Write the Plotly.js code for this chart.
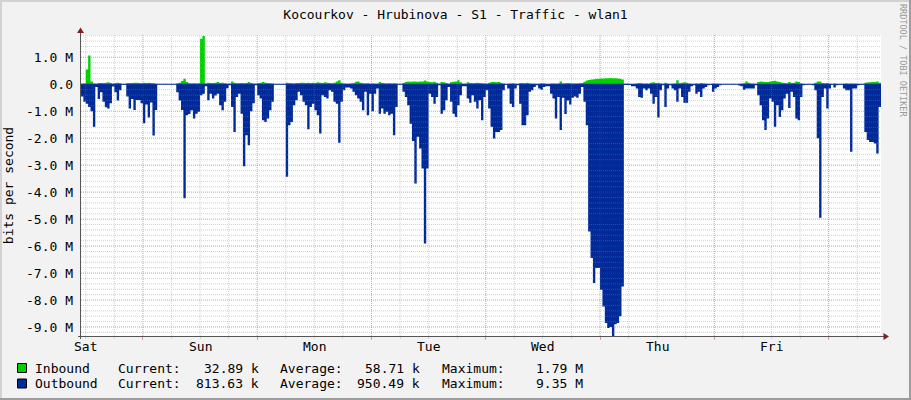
<!DOCTYPE html>
<html>
<head>
<meta charset="utf-8">
<script src="https://cdn.plot.ly/plotly-3.0.1.min.js"></script>
<style>
html,body{margin:0;padding:0;background:#F2F2F2;}
#chart{width:911px;height:400px;}
</style>
</head>
<body>
<div id="chart"></div>
<script>
// ---- Data (30-minute samples, Mbit/s) ----
const outboundMbps = [
  0.45, 0.65, 0.72, 0.84, 1.0, 1.58, 0.1, 0.55, 0.3, 0.65, 0.85, 0.9,
  0.7, 0.08, 0.3, 0.6, 0.22, 0.02, 0.02, 0.45, 0.9, 0.55, 0.95, 0.58,
  0.58, 0.7, 1.45, 0.75, 1.23, 0.68, 1.9, 0.95, 0, 0, 0, 0,
  0, 0, 0, 0, 0.3, 0.6, 0.95, 4.23, 1.15, 1.1, 0.96, 1.27,
  1.09, 1.02, 0.41, 0.35, 0.07, 0.59, 0.35, 0.53, 0.42, 0.35, 0.78, 0.96,
  0.65, 0.15, 0.04, 0.84, 1.77, 0.47, 0.35, 1.09, 3.04, 1.89, 2.26, 1.0,
  0.7, 0.04, 0.41, 0.53, 1.33, 1.4, 1.27, 0.96, 0.65, 0, 0, 0,
  0, 0, 3.43, 1.52, 1.4, 0.78, 0.59, 0.28, 0.41, 0.65, 0.78, 1.67,
  0.84, 0.72, 0.96, 1.15, 1.83, 0.41, 0.47, 0.53, 0.22, 0.28, 0.65, 0.72,
  2.17, 0.65, 0.22, 0.12, 0.12, 0.16, 0.28, 0.41, 0.53, 0.65, 0.96, 0.28,
  1.15, 0.35, 1.0, 0.35, 0.16, 1.09, 0.9, 1.09, 1.02, 1.15, 1.09, 1.89,
  0.84, 0, 0, 0.28, 0.47, 0.78, 1.46, 2.1, 3.68, 1.95, 2.38, 3.12,
  5.9, 3.12, 0.35, 0.47, 0.72, 0.47, 0.04, 1.09, 0.96, 0.59, 0.1, 0.65,
  1.09, 1.21, 0.78, 0.41, 0.07, 0.07, 0.53, 0.69, 0.41, 0.65, 0.9, 0.59,
  1.33, 0.47, 0.22, 0.9, 1.58, 2.01, 1.77, 1.77, 1.7, 0.22, 0.02, 0.16,
  0.72, 0.84, 0.16, 0.04, 0.72, 1.52, 1.52, 1.15, 0.28, 0.22, 0.1, 0.04,
  0.16, 0.2, 0.1, 0.07, 0.07, 0.35, 0.53, 1.27, 0.47, 1.7, 0.5, 1.1,
  0.6, 0.75, 0.5, 0.45, 0.5, 0.35, 0.1, 0.65, 1.52, 5.46, 6.44, 7.37,
  6.81, 6.81, 7.62, 8.24, 8.85, 9.04, 9.0, 9.35, 8.9, 8.85, 8.6, 7.5,
  0.03, 0.03, 0.03, 0.07, 0.07, 0.16, 0.47, 0.5, 0.16, 0.22, 0.16, 0.35,
  0.72, 0.47, 1.23, 0.22, 0.04, 0.84, 0.16, 0.04, 0.16, 0.22, 0.65, 0.16,
  0.47, 0.69, 0.69, 0.28, 0.07, 0.04, 0.35, 0.28, 0.47, 0.16, 0.1, 0.04,
  0.02, 0.28, 0.16, 0.1, 0.04, 0, 0, 0, 0, 0, 0, 0,
  0.05, 0.07, 0.2, 0.16, 0.16, 0.16, 0.16, 0.04, 0.41, 0.78, 1.33, 1.7,
  1.27, 0.53, 0.65, 1.58, 0.78, 1.21, 0.96, 0.53, 0.35, 0.88, 0.28, 0.47,
  1.27, 1.33, 0.47, 0.04, 0.01, 0.01, 0.01, 0.04, 0.22, 2.0, 4.95, 0.47,
  0.16, 0.9, 0.16, 0.01, 0.12, 0.04, 0.01, 0.01, 0.16, 0.22, 0.22, 2.5,
  0.16, 0.16, 0.04, 0.01, 0.01, 1.77, 2.07, 2.14, 2.14, 2.2, 2.57, 0.84
];
const inboundMbps = [
  0.02, 0.03, 0.55, 1.07, 0.1, 0.03, 0.02, 0.05, 0.05, 0.05, 0.06, 0.07,
  0.05, 0.02, 0.05, 0.06, 0.04, 0, 0, 0.05, 0.05, 0.05, 0.06, 0.06,
  0.05, 0.04, 0.06, 0.05, 0.06, 0.05, 0.04, 0.02, 0, 0, 0, 0,
  0, 0, 0, 0, 0.04, 0.06, 0.12, 0.2, 0.08, 0.04, 0.03, 0.04,
  0.03, 0.04, 1.69, 1.79, 0.03, 0.06, 0.05, 0.05, 0.06, 0.08, 0.05, 0.06,
  0.04, 0.02, 0.02, 0.1, 0.06, 0.04, 0.04, 0.05, 0.04, 0.05, 0.08, 0.05,
  0.03, 0.02, 0.05, 0.06, 0.08, 0.06, 0.05, 0.04, 0.03, 0, 0, 0,
  0, 0, 0.06, 0.05, 0.04, 0.03, 0.05, 0.05, 0.06, 0.06, 0.05, 0.06,
  0.05, 0.06, 0.05, 0.07, 0.06, 0.05, 0.07, 0.06, 0.05, 0.04, 0.06, 0.1,
  0.15, 0.06, 0.03, 0.02, 0.02, 0.03, 0.04, 0.09, 0.1, 0.06, 0.04, 0.03,
  0.04, 0.02, 0.03, 0.02, 0.02, 0.08, 0.05, 0.04, 0.03, 0.04, 0.03, 0.04,
  0.03, 0, 0, 0.05, 0.08, 0.1, 0.09, 0.1, 0.1, 0.09, 0.1, 0.1,
  0.14, 0.1, 0.08, 0.07, 0.09, 0.06, 0.02, 0.08, 0.07, 0.05, 0.02, 0.07,
  0.09, 0.1, 0.15, 0.07, 0.02, 0.02, 0.07, 0.05, 0.04, 0.05, 0.06, 0.05,
  0.04, 0.03, 0.02, 0.06, 0.08, 0.08, 0.07, 0.08, 0.06, 0.03, 0, 0.02,
  0.03, 0.04, 0.02, 0.01, 0.05, 0.05, 0.04, 0.06, 0.03, 0.02, 0.02, 0.01,
  0.02, 0.04, 0.03, 0.01, 0.01, 0.02, 0.03, 0.02, 0.03, 0.1, 0.03, 0.04,
  0.05, 0.04, 0.03, 0.03, 0.03, 0.04, 0.05, 0.09, 0.14, 0.16, 0.18, 0.19,
  0.2, 0.2, 0.21, 0.21, 0.22, 0.22, 0.23, 0.22, 0.22, 0.21, 0.2, 0.18,
  0.02, 0.02, 0.01, 0.01, 0.01, 0.03, 0.05, 0.04, 0.02, 0.03, 0.02, 0.06,
  0.07, 0.05, 0.06, 0.03, 0.01, 0.06, 0.02, 0.01, 0.02, 0.03, 0.15, 0.04,
  0.06, 0.07, 0.06, 0.03, 0.01, 0.01, 0.03, 0.02, 0.05, 0.03, 0.02, 0.01,
  0.01, 0.03, 0.02, 0.02, 0, 0, 0, 0, 0, 0, 0, 0,
  0.01, 0.02, 0.04, 0.1, 0.06, 0.03, 0.02, 0.02, 0.08, 0.1, 0.09, 0.08,
  0.08, 0.1, 0.12, 0.13, 0.1, 0.08, 0.06, 0.05, 0.04, 0.08, 0.05, 0.06,
  0.1, 0.08, 0.04, 0.01, 0, 0, 0, 0.01, 0.06, 0.1, 0.1, 0.05,
  0.04, 0.05, 0.02, 0, 0.03, 0.01, 0, 0, 0.02, 0.03, 0.02, 0.03,
  0.02, 0.02, 0.01, 0, 0, 0.06, 0.07, 0.07, 0.08, 0.08, 0.1, 0.06
];
const dayLabels = ['Sat', 'Sun', 'Mon', 'Tue', 'Wed', 'Thu', 'Fri'];
const yTickValues = [1, 0, -1, -2, -3, -4, -5, -6, -7, -8, -9];
const yTickLabels = ['1.0 M', '0.0', '-1.0 M', '-2.0 M', '-3.0 M', '-4.0 M', '-5.0 M', '-6.0 M', '-7.0 M', '-8.0 M', '-9.0 M'];
const seriesNames = ['Inbound', 'Outbound'];
const currentLabels = ['32.89 k', '813.63 k'];
const averageLabels = ['58.71 k', '950.49 k'];
const maximumLabels = ['1.79 M', '9.35 M'];
const titleText = 'Kocourkov - Hrubinova - S1 - Traffic - wlan1';

// ---- Time axis (hours from graph start, sample step 30 min) ----
const SAMPLE_HOURS = 0.5;
const SPAN_HOURS = 168;
const FIRST_MIDNIGHT = 13;   // graph starts Sat 11:00
const FIRST_NOON = 1;

function stepSeries(vals, sign) {
  const x = vals.map((_, i) => i * SAMPLE_HOURS);
  const y = vals.map(v => sign * v);
  x.push(vals.length * SAMPLE_HOURS);
  y.push(sign * vals[vals.length - 1]);
  return {x, y};
}

const GREEN = '#00CF00';
const BLUE = '#002A97';
const FONT = 'DejaVu Sans Mono, monospace';
const MINOR = 'rgba(204,204,204,0.8)';
const MAJOR = 'rgba(242,82,82,0.5)';
const MINOR_OVER = 'rgba(204,204,204,0.22)';
const MAJOR_OVER = 'rgba(242,82,82,0.2)';

// pixel -> paper helpers (plot area 81..881 x 35..336)
const PL = 81, PR = 881, PT = 35, PB = 336;
const px = x => (x - PL) / (PR - PL);
const py = y => (PB - y) / (PB - PT);

const inS = stepSeries(inboundMbps, 1);
const outS = stepSeries(outboundMbps, -1);

const traces = [
  {x: inS.x, y: inS.y, type: 'scatter', mode: 'lines', line: {shape: 'hv', width: 0, color: GREEN},
   fill: 'tozeroy', fillcolor: GREEN, name: 'Inbound', hoverinfo: 'skip'},
  {x: outS.x, y: outS.y, type: 'scatter', mode: 'lines', line: {shape: 'hv', width: 0, color: BLUE},
   fill: 'tozeroy', fillcolor: BLUE, name: 'Outbound', hoverinfo: 'skip'}
];

const shapes = [];
function addGrid(layer, minorCol, majorCol) {
  for (let h = FIRST_NOON; h < SPAN_HOURS; h += 6) {
    const major = ((h - FIRST_MIDNIGHT) % 24) === 0;
    shapes.push({type: 'line', xref: 'x', yref: 'paper', x0: h, x1: h, y0: 0, y1: 1, layer,
      line: {color: major ? majorCol : minorCol, width: 1, dash: '1px,1px'}});
  }
  for (let k = -46; k <= 9; k++) {
    const v = k / 5;
    const major = (k % 5) === 0;
    shapes.push({type: 'line', xref: 'paper', yref: 'y', x0: 0, x1: 1, y0: v, y1: v, layer,
      line: {color: major ? majorCol : minorCol, width: 1, dash: '1px,1px'}});
  }
}
addGrid('below', MINOR, MAJOR);
addGrid('above', MINOR_OVER, MAJOR_OVER);
// blue zero line
shapes.push({type: 'line', xref: 'paper', yref: 'y', x0: 0, x1: 1, y0: 0, y1: 0, layer: 'above',
  line: {color: BLUE, width: 1}});
// axes with arrows
const AXIS = '#555555', ARROW = '#801F1F';
shapes.push({type: 'line', xref: 'paper', yref: 'paper', x0: px(80.5), x1: px(80.5), y0: py(339), y1: py(31), layer: 'above', line: {color: AXIS, width: 1}});
shapes.push({type: 'line', xref: 'paper', yref: 'paper', x0: px(78), x1: px(884), y0: py(336.5), y1: py(336.5), layer: 'above', line: {color: AXIS, width: 1}});
shapes.push({type: 'path', xref: 'paper', yref: 'paper', layer: 'above',
  path: `M${px(80.5)},${py(27.5)} L${px(77)},${py(33)} L${px(84)},${py(33)} Z`, fillcolor: ARROW, line: {width: 0}});
shapes.push({type: 'path', xref: 'paper', yref: 'paper', layer: 'above',
  path: `M${px(889)},${py(336.5)} L${px(883.5)},${py(333)} L${px(883.5)},${py(340)} Z`, fillcolor: ARROW, line: {width: 0}});
// 3D frame
shapes.push({type: 'rect', xref: 'paper', yref: 'paper', x0: px(0), x1: px(911), y0: py(0), y1: py(2), fillcolor: '#D2D2D2', line: {width: 0}, layer: 'above'});
shapes.push({type: 'rect', xref: 'paper', yref: 'paper', x0: px(0), x1: px(2), y0: py(0), y1: py(400), fillcolor: '#D2D2D2', line: {width: 0}, layer: 'above'});
shapes.push({type: 'rect', xref: 'paper', yref: 'paper', x0: px(909), x1: px(911), y0: py(0), y1: py(400), fillcolor: '#9C9C9C', line: {width: 0}, layer: 'above'});
shapes.push({type: 'rect', xref: 'paper', yref: 'paper', x0: px(0), x1: px(911), y0: py(398), y1: py(400), fillcolor: '#9C9C9C', line: {width: 0}, layer: 'above'});
// legend swatches
const swatchColors = [GREEN, BLUE];
const rowCenters = [368, 383.5];
rowCenters.forEach((c, r) => {
  shapes.push({type: 'rect', xref: 'paper', yref: 'paper', x0: px(17.5), x1: px(26.5), y0: py(c - 4.5), y1: py(c + 4.5),
    fillcolor: swatchColors[r], line: {color: '#000000', width: 1}, layer: 'above'});
});

const annotations = [];
const txt = (text, x, y, xanchor, extra) => Object.assign({
  text, xref: 'paper', yref: 'paper', x: px(x), y: py(y), xanchor, yanchor: 'middle',
  showarrow: false, borderpad: 0, font: {family: FONT, size: 13, color: '#000000'}
}, extra || {});
// day labels at noon (positioned on the time axis)
dayLabels.forEach((d, i) => {
  annotations.push({text: d, xref: 'x', yref: 'paper', x: FIRST_NOON + 24 * i, y: py(346.5),
    xanchor: 'center', yanchor: 'middle', showarrow: false, borderpad: 0,
    font: {family: FONT, size: 13, color: '#000000'}});
});
// legend text
rowCenters.forEach((c, r) => {
  annotations.push(txt(seriesNames[r], 34, c, 'left'));
  annotations.push(txt('Current:', 116.5, c, 'left'));
  annotations.push(txt(currentLabels[r], 259.5, c, 'right'));
  annotations.push(txt('Average:', 279, c, 'left'));
  annotations.push(txt(averageLabels[r], 421, c, 'right'));
  annotations.push(txt('Maximum:', 441, c, 'left'));
  annotations.push(txt(maximumLabels[r], 584, c, 'right'));
});
// side credit
annotations.push(txt('RRDTOOL / TOBI OETIKER', 903, 60, 'center', {textangle: 90, font: {family: FONT, size: 8.5, color: '#9A9A9A'}}));

const midnights = [];
for (let h = FIRST_MIDNIGHT; h < SPAN_HOURS; h += 24) midnights.push(h);

const layout = {
  width: 911, height: 400,
  margin: {l: PL, r: 911 - PR, t: PT, b: 400 - PB, pad: 0},
  paper_bgcolor: '#F2F2F2', plot_bgcolor: '#FFFFFF',
  showlegend: false,
  title: {text: titleText, x: 0.5, xref: 'container', xanchor: 'center', y: 1 - 14 / 400, yref: 'container', yanchor: 'middle',
    font: {family: FONT, size: 13, color: '#000000'}},
  xaxis: {range: [0, SPAN_HOURS], showgrid: false, zeroline: false, showline: false,
    tickmode: 'array', tickvals: midnights, showticklabels: false, ticks: 'outside', ticklen: 3, tickcolor: MAJOR,
    minor: {tick0: FIRST_NOON, dtick: 6, ticks: 'outside', ticklen: 2, tickcolor: MINOR, showgrid: false},
    fixedrange: true},
  yaxis: {range: [-9.333, 1.826], showgrid: false, zeroline: false, showline: false,
    tickmode: 'array', tickvals: yTickValues, ticktext: yTickLabels, ticks: '', ticklabelstandoff: 7,
    tickfont: {family: FONT, size: 13, color: '#000000'},
    title: {text: 'bits per second', font: {family: FONT, size: 13, color: '#000000'}, standoff: 9},
    fixedrange: true},
  shapes, annotations
};

Plotly.newPlot('chart', traces, layout, {displayModeBar: false, staticPlot: true});
</script>
</body>
</html>
